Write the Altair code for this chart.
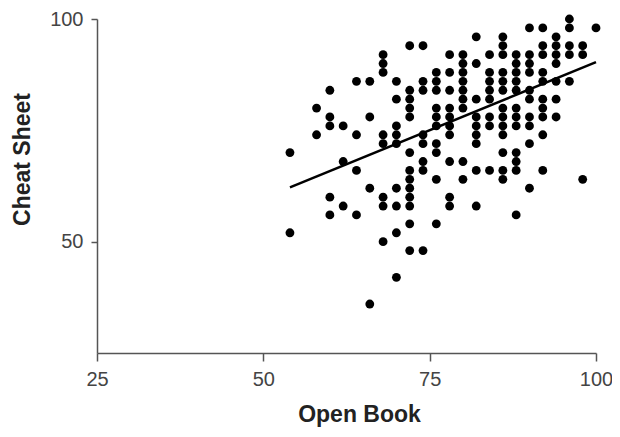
import altair as alt
import pandas as pd

# Scatter data, read column by column (Open Book score -> Cheat Sheet scores)
open_book = (
    [54] * 2 + [58] * 2 + [60] * 5 + [62] * 3 + [64] * 4 + [66] * 4 + [68] * 8
    + [70] * 9 + [72] * 13 + [74] * 8 + [76] * 10 + [78] * 10 + [80] * 9
    + [82] * 9 + [84] * 8 + [86] * 13 + [88] * 12 + [90] * 10 + [92] * 10
    + [94] * 7 + [96] * 5 + [98] * 3 + [100] * 1
)
cheat_sheet = [
    70, 52,
    80, 74,
    84, 78, 76, 60, 56,
    76, 68, 58,
    86, 74, 66, 56,
    86, 78, 62, 36,
    92, 90, 88, 74, 72, 60, 58, 50,
    86, 82, 76, 74, 72, 62, 58, 52, 42,
    94, 84, 82, 80, 78, 70, 66, 64, 62, 60, 58, 54, 48,
    94, 86, 84, 74, 72, 68, 66, 48,
    88, 86, 84, 80, 78, 76, 72, 70, 64, 54,
    92, 88, 84, 80, 78, 76, 74, 68, 60, 58,
    92, 90, 88, 86, 84, 82, 80, 68, 64,
    96, 90, 82, 78, 76, 74, 72, 66, 58,
    92, 88, 86, 84, 82, 78, 76, 66,
    96, 94, 92, 88, 86, 84, 80, 78, 76, 74, 70, 66, 64,
    92, 90, 88, 86, 84, 80, 78, 76, 70, 68, 66, 56,
    98, 92, 90, 88, 84, 82, 78, 76, 72, 62,
    98, 94, 92, 88, 86, 82, 80, 78, 74, 66,
    96, 94, 92, 90, 86, 82, 78,
    100, 98, 94, 92, 86,
    94, 92, 64,
    98,
]

# Fitted line endpoints
line_x = [54, 100]
line_y = [62.2, 90.3]

x_ticks = [25, 50, 75, 100]
y_ticks = [50, 100]

pts = pd.DataFrame({"Open Book": open_book, "Cheat Sheet": cheat_sheet})
fit = pd.DataFrame({"Open Book": line_x, "Cheat Sheet": line_y})

FONT = "Liberation Sans"

xs = alt.Scale(domain=[25, 100], nice=False, zero=False)
ys = alt.Scale(domain=[25, 100], nice=False, zero=False)

x_axis = alt.Axis(
    values=x_ticks, grid=False, title="Open Book", labelFlush=False,
    domainColor="#555", domainWidth=1.5, tickColor="#555", tickWidth=1.5,
    tickSize=8, labelFontSize=20, labelFont=FONT, labelColor="#444",
    labelPadding=8, titleFontSize=23, titleFont=FONT, titleFontWeight="bold",
    titleColor="#222", titleX=262, titleY=61, titleBaseline="middle",
    titleAlign="center",
)
y_axis = alt.Axis(
    values=y_ticks, grid=False, title="Cheat Sheet", labelFlush=False,
    domainColor="#555", domainWidth=1.5, tickColor="#555", tickWidth=1.5,
    tickSize=6, labelFontSize=20, labelFont=FONT, labelColor="#444",
    labelPadding=8, titleFontSize=23, titleFont=FONT, titleFontWeight="bold",
    titleColor="#222", titleX=-75, titleY=140, titleBaseline="middle",
    titleAlign="center", titleAngle=270,
)

points = alt.Chart(pts).mark_circle(size=78, color="#000", opacity=1).encode(
    x=alt.X("Open Book:Q", scale=xs, axis=x_axis),
    y=alt.Y("Cheat Sheet:Q", scale=ys, axis=y_axis),
)

line = alt.Chart(fit).mark_line(color="#000", strokeWidth=2.5).encode(
    x=alt.X("Open Book:Q", scale=xs),
    y=alt.Y("Cheat Sheet:Q", scale=ys),
)

chart = (points + line).properties(
    width=499, height=334,
    autosize=alt.AutoSizeParams(type="none"),
    padding={"left": 89, "top": 11, "right": 16, "bottom": 76},
).configure_view(stroke=None)

chart.save("out.html", embed_options={"renderer": "svg", "actions": False})
